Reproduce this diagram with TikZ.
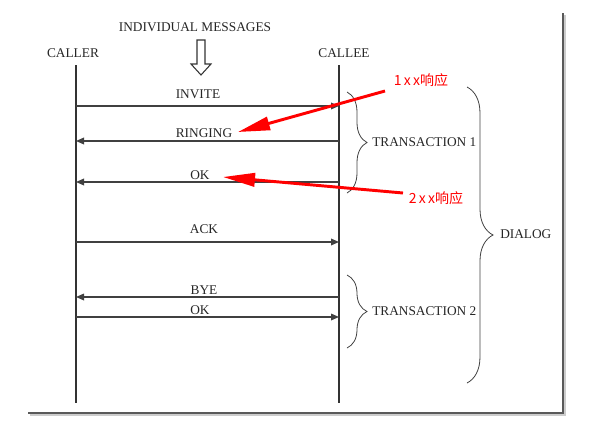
\documentclass[tikz,border=0pt]{standalone}
\usepackage{fontspec}
\setmainfont{Liberation Serif}
\newfontfamily\cjk{Noto Sans CJK SC}
\usetikzlibrary{arrows.meta,decorations.pathreplacing}
\begin{document}
\begin{tikzpicture}[x=0.75pt,y=-0.75pt,
  lbl/.style={font=\fontsize{10}{12}\selectfont, inner sep=0pt, text=black!85},
  life/.style={draw=black!80, line width=0.9pt},
  msg/.style={draw=black!75, line width=0.9pt, -{Triangle[length=6pt,width=5pt]}},
  redarrow/.style={draw=red, line width=2.2pt, -{Triangle[length=24pt,width=10pt]}},
  note/.style={text=red, font=\cjk\fontsize{10.5}{12}\selectfont, inner sep=0pt},
  bracestyle/.style={draw=black!75, line width=0.6pt, decorate, decoration={brace, amplitude=#1}},
  bracestyle/.default=15pt,
]
\useasboundingbox (0,0) rectangle (594,426);

% screenshot frame (shadowed right and bottom edges)
\draw[gray!40, line width=2.2pt] (30,415) -- (565,415) -- (565,15);
\draw[black!65, line width=1.8pt] (28,413) -- (563,413) -- (563,13);

% header texts
\node[lbl] (im) at (195,27) {INDIVIDUAL MESSAGES};
\node[lbl] (caller) at (73,53) {CALLER};
\node[lbl] (callee) at (344,53) {CALLEE};

% hollow down arrow
\draw[black!80, line width=0.8pt, fill=white]
  (197,40) -- (205,40) -- (205,64) -- (211,64) -- (201,75) -- (191,64) -- (197,64) -- cycle;

% lifelines
\coordinate (Ltop) at (76,65);  \coordinate (Lbot) at (76,403);
\coordinate (Rtop) at (339,65); \coordinate (Rbot) at (339,403);
\draw[life] (Ltop) -- (Lbot);
\draw[life] (Rtop) -- (Rbot);

% message end points
\coordinate (L1) at (76,106); \coordinate (R1) at (339,106);
\coordinate (L2) at (76,141); \coordinate (R2) at (339,141);
\coordinate (L3) at (76,182); \coordinate (R3) at (339,182);
\coordinate (L4) at (76,242); \coordinate (R4) at (339,242);
\coordinate (L5) at (76,297); \coordinate (R5) at (339,297);
\coordinate (L6) at (76,317); \coordinate (R6) at (339,317);

\draw[msg] (L1) -- (R1);
\draw[msg] (R2) -- (L2);
\draw[msg] (R3) -- (L3);
\draw[msg] (L4) -- (R4);
\draw[msg] (R5) -- (L5);
\draw[msg] (L6) -- (R6);

\node[lbl] (invite) at (198,94) {INVITE};
\node[lbl] (ringing) at (204,133) {RINGING};
\node[lbl] (ok1) at (200,175) {OK};
\node[lbl] (ack) at (204,229) {ACK};
\node[lbl] (bye) at (204,290) {BYE};
\node[lbl] (ok2) at (200,310) {OK};

% braces
\coordinate (t1a) at (347,92);  \coordinate (t1b) at (347,193);
\coordinate (t2a) at (347,275); \coordinate (t2b) at (347,348);
\coordinate (da) at (467,87);   \coordinate (db) at (467,383);
\draw[bracestyle] (t1a) -- (t1b);
\draw[bracestyle] (t2a) -- (t2b);
\draw[bracestyle=19.5pt] (da) -- (db);
\node[lbl, anchor=west] (tr1) at (372,142) {TRANSACTION 1};
\node[lbl, anchor=west] (tr2) at (372,311) {TRANSACTION 2};
\node[lbl, anchor=west] (dialog) at (500,234) {DIALOG};

% red annotations
\node[note] (n1) at (421,80) {1\,x\,x响应};
\node[note] (n2) at (436,198) {2\,x\,x响应};
\coordinate (n1s) at (385,91);  \coordinate (n1e) at (238,132);
\coordinate (n2s) at (403,193); \coordinate (n2e) at (223,177);
\draw[redarrow] (n1s) -- (n1e);
\draw[redarrow] (n2s) -- (n2e);
\end{tikzpicture}
\end{document}
